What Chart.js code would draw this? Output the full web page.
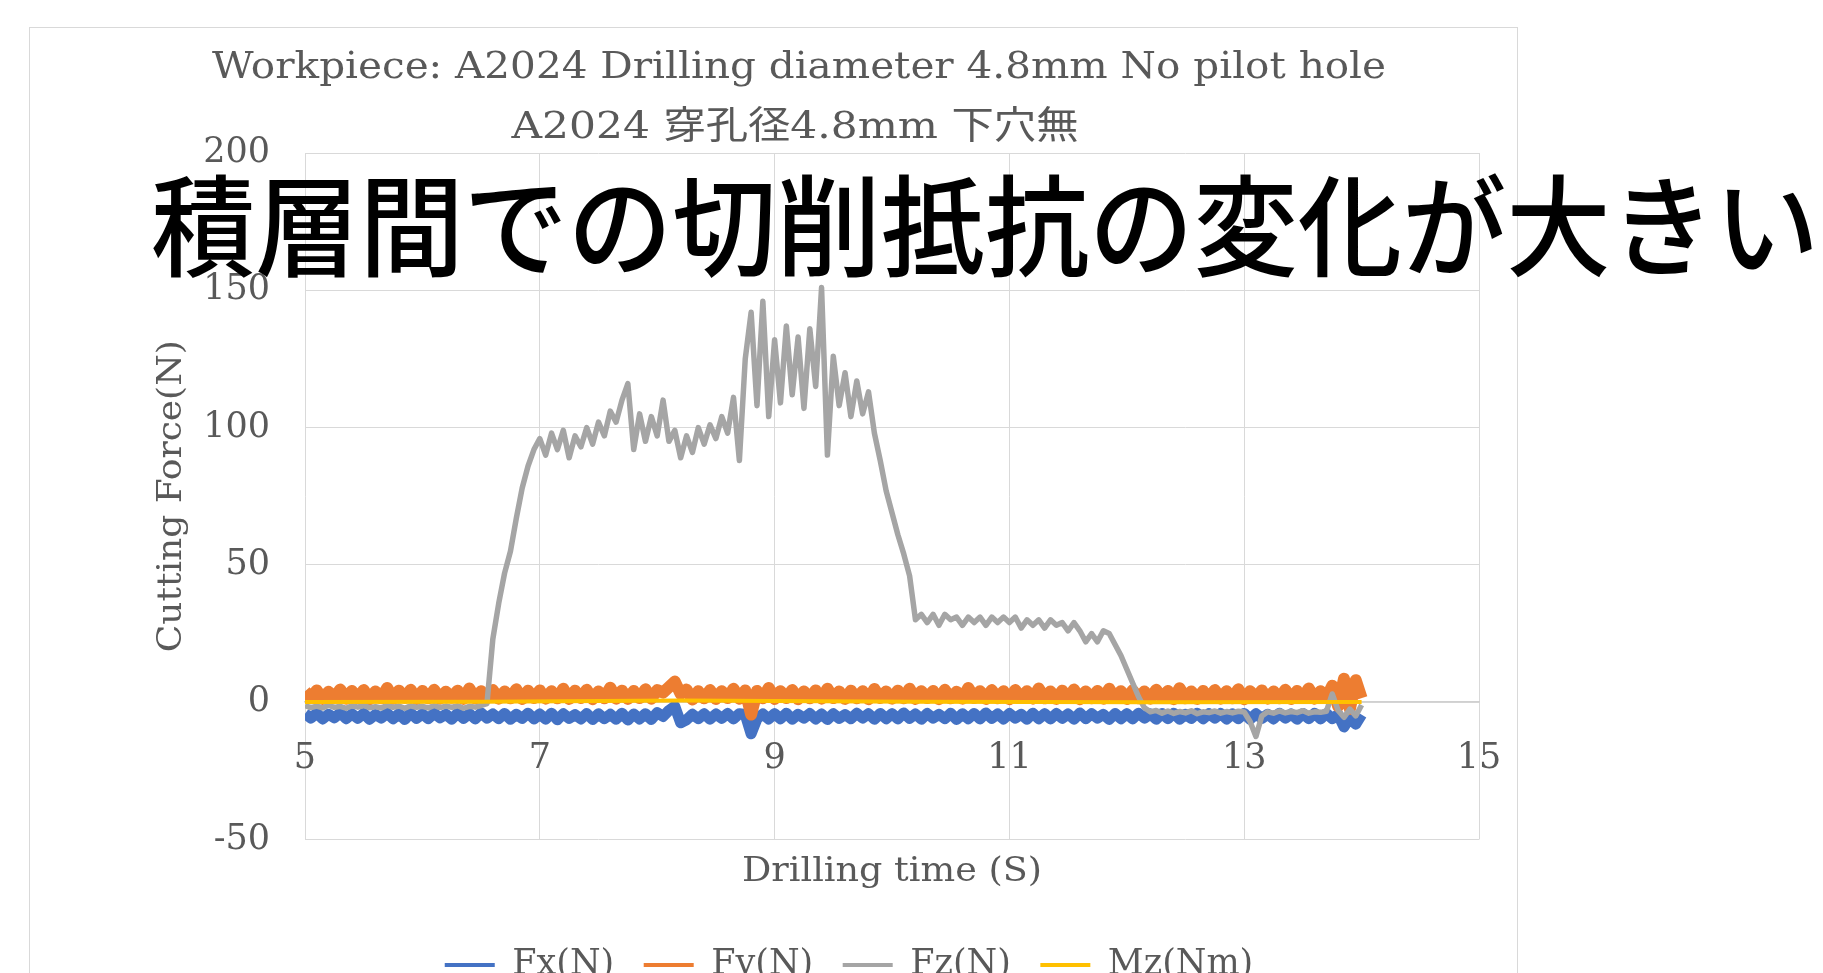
<!DOCTYPE html>
<html>
<head>
<meta charset="utf-8">
<script src="https://cdn.jsdelivr.net/npm/chart.js@4.4.1/dist/chart.umd.min.js"></script>
<style>
  html, body { margin: 0; padding: 0; background: #fff; }
  #wrap { position: relative; width: 1823px; height: 973px; }
</style>
</head>
<body>
<div id="wrap"><canvas id="chart"></canvas></div>
<script>
// Cutting force during drilling of A2024.
// Signals are noisy: sampled every 0.05 s, Fx/Fy drawn as thick lines to show the band.

const titleLines = ['Workpiece: A2024 Drilling diameter 4.8mm No pilot hole', 'A2024 穿孔径4.8mm 下穴無'];
const callout = '積層間での切削抵抗の変化が大きい';
const xTitle = 'Drilling time (S)';
const yTitle = 'Cutting Force(N)';
const seriesNames = ['Fx(N)', 'Fy(N)', 'Fz(N)', 'Mz(Nm)'];
const xTickValues = [5, 7, 9, 11, 13, 15];
const yTickValues = [-50, 0, 50, 100, 150, 200];

const time = [
  5,5.05,5.1,5.15,5.2,5.25,5.3,5.35,5.4,5.45,5.5,5.55,5.6,5.65,5.7,5.75,5.8,5.85,5.9,5.95,
  6,6.05,6.1,6.15,6.2,6.25,6.3,6.35,6.4,6.45,6.5,6.55,6.6,6.65,6.7,6.75,6.8,6.85,6.9,6.95,
  7,7.05,7.1,7.15,7.2,7.25,7.3,7.35,7.4,7.45,7.5,7.55,7.6,7.65,7.7,7.75,7.8,7.85,7.9,7.95,
  8,8.05,8.1,8.15,8.2,8.25,8.3,8.35,8.4,8.45,8.5,8.55,8.6,8.65,8.7,8.75,8.8,8.85,8.9,8.95,
  9,9.05,9.1,9.15,9.2,9.25,9.3,9.35,9.4,9.45,9.5,9.55,9.6,9.65,9.7,9.75,9.8,9.85,9.9,9.95,
  10,10.05,10.1,10.15,10.2,10.25,10.3,10.35,10.4,10.45,10.5,10.55,10.6,10.65,10.7,10.75,10.8,10.85,10.9,10.95,
  11,11.05,11.1,11.15,11.2,11.25,11.3,11.35,11.4,11.45,11.5,11.55,11.6,11.65,11.7,11.75,11.8,11.85,11.9,11.95,
  12,12.05,12.1,12.15,12.2,12.25,12.3,12.35,12.4,12.45,12.5,12.55,12.6,12.65,12.7,12.75,12.8,12.85,12.9,12.95,
  13,13.05,13.1,13.15,13.2,13.25,13.3,13.35,13.4,13.45,13.5,13.55,13.6,13.65,13.7,13.75,13.8,13.85,13.9,13.95,
  14
];

const fxValues = [
  -4.2,-5.8,-4.0,-6.1,-4.4,-5.7,-3.9,-6.0,-4.3,-5.9,-4.1,-6.2,-4.5,-5.8,-4.0,-6.0,-4.2,-6.3,-3.9,-5.9,
  -4.3,-6.0,-4.1,-5.7,-4.4,-6.2,-4.0,-5.9,-4.2,-6.1,-3.9,-5.8,-4.3,-6.0,-4.1,-6.2,-4.4,-5.9,-4.0,-6.1,
  -4.3,-6.2,-4.0,-6.4,-4.2,-5.9,-4.5,-6.1,-4.1,-6.3,-4.2,-6.0,-4.4,-6.2,-4.0,-6.5,-4.3,-6.1,-4.2,-6.3,
  -3.8,-5.2,-3.0,-1.5,-7.5,-6.4,-4.4,-6.0,-4.2,-6.2,-4.3,-5.9,-4.1,-6.1,-4.2,-4.5,-11.5,-6.0,-4.3,-6.1,
  -4.2,-6.0,-4.0,-6.2,-4.4,-5.8,-4.1,-6.1,-4.3,-6.3,-4.2,-5.9,-4.5,-6.0,-4.0,-5.8,-4.2,-6.2,-4.1,-6.0,
  -4.2,-6.1,-3.9,-5.9,-4.3,-6.2,-4.1,-5.8,-4.4,-6.0,-4.0,-6.3,-4.2,-6.0,-4.1,-6.1,-3.9,-5.9,-4.3,-6.1,
  -4.1,-5.8,-4.4,-6.2,-4.0,-6.0,-4.2,-6.1,-4.1,-5.9,-4.3,-6.2,-3.9,-6.0,-4.2,-5.8,-4.4,-6.3,-4.1,-6.0,
  -4.2,-6.1,-4.0,-5.8,-4.3,-6.2,-4.1,-6.0,-4.0,-6.2,-4.4,-5.9,-4.0,-6.0,-4.2,-5.8,-4.1,-6.1,-4.3,-6.0,
  -4.1,-6.2,-4.2,-5.9,-4.4,-6.1,-4.0,-5.8,-4.3,-6.2,-4.1,-6.0,-4.0,-6.1,-4.1,-6.0,-4.5,-9.0,-5.5,-8.0,
  -4.5
];

const fyValues = [
  4.0,1.5,4.3,1.2,3.8,1.6,4.6,1.3,4.1,1.5,4.4,1.1,3.9,1.4,5.2,1.3,4.2,1.6,4.5,1.2,
  4.1,1.4,4.5,1.3,3.8,1.6,4.2,1.2,5.0,1.4,4.0,1.5,4.4,1.3,3.9,1.4,4.7,1.2,4.2,1.5,
  4.3,1.3,4.0,1.4,4.9,1.2,4.2,1.5,4.5,1.1,3.9,1.4,5.3,1.3,4.2,1.2,4.1,1.5,4.7,1.3,
  4.4,3.5,5.5,7.5,3.0,4.6,1.0,4.0,1.4,4.4,1.2,4.0,1.5,4.9,1.3,4.3,-4.5,4.1,1.4,5.2,
  1.2,4.0,1.5,4.4,1.1,3.9,1.4,4.3,1.3,4.9,1.5,3.9,1.2,4.2,1.4,4.0,1.1,4.8,1.5,3.9,
  1.3,4.2,1.4,4.9,1.2,4.0,1.5,4.1,1.1,4.5,1.4,3.8,1.3,5.2,1.5,4.0,1.2,4.4,1.4,4.0,
  1.1,4.4,1.5,4.0,1.3,5.0,1.4,3.9,1.2,4.2,1.5,4.6,1.1,3.9,1.4,4.1,1.3,4.9,1.5,4.0,
  1.2,4.3,1.4,3.9,1.3,4.5,1.5,4.1,1.1,5.1,1.4,3.9,1.2,4.1,1.5,4.4,1.3,4.0,1.4,4.7,
  1.1,4.0,1.5,4.3,1.3,3.9,1.4,4.5,1.2,4.1,1.5,5.0,1.3,4.0,1.5,6.0,-1.5,8.5,-2.5,8.0,
  1.5
];

const fzValues = [
  -1.2,-2.0,-1.4,-2.1,-1.1,-1.9,-1.5,-2.2,-1.3,-1.8,-1.2,-2.0,-1.6,-2.1,-1.1,-1.9,-1.4,-2.2,-1.3,-1.9,
  -1.5,-2.1,-1.2,-2.0,-1.4,-1.9,-1.3,-2.2,-1.5,-1.8,-1.2,-0.5,23,36,47,55,67,78,86,92,
  96,90,98,92,99,89,97,93,100,94,102,97,106,102,110,116,92,105,95,104,
  97,110,95,99,89,97,91,100,94,101,96,104,98,111,88,125,142,108,146,104,
  132,109,137,112,133,107,136,115,151,90,126,108,120,104,117,105,113,98,88,77,
  69,61,54,46,30,32,29,32,28,32,30,31,28,31,29,31,28,31,29,31,
  29,31,27,30,28,30,27,30,28,29,26,29,26,22,25,22,26,25,21,17,
  12,7,2,-2,-3.5,-3,-4,-3.2,-4.1,-3.4,-3.9,-3.1,-4.2,-3.5,-3.8,-3.2,-4.0,-3.4,-3.9,-3.3,
  -3.6,-7,-12.5,-5,-3.5,-4.0,-3.2,-3.9,-3.4,-3.8,-3.1,-4.0,-3.5,-3.7,-3.3,3,-3,-5.5,-2.5,-5,
  -1
];

const mzTime   = [5, 6.5, 8.2, 10.2, 12.2, 14];
const mzValues = [0.1, 0.2, 0.6, 0.2, 0.0, 0.1];

const COLORS = ['#4472C4', '#ED7D31', '#A5A5A5', '#FFC000'];
const WIDTHS = [11, 12, 5.5, 4];
const TEXT = '#595959';
const GRID = '#d9d9d9';

const zip = (xs, ys) => xs.map((x, i) => ({ x, y: ys[i] }));
const seriesData = [
  zip(time, fxValues),
  zip(time, fyValues),
  zip(time, fzValues),
  zip(mzTime, mzValues),
];

// draw text centred at (x, y), squeezed/stretched to a given width
function fitText(ctx, text, x, y, font, width, color, angle) {
  ctx.save();
  ctx.font = font;
  ctx.fillStyle = color;
  ctx.textAlign = 'center';
  ctx.textBaseline = 'alphabetic';
  ctx.translate(x, y);
  if (angle) ctx.rotate(angle);
  ctx.scale(width / ctx.measureText(text).width, 1);
  ctx.fillText(text, 0, 0);
  ctx.restore();
}

const decor = {
  id: 'decor',
  afterLayout(chart) {
    // Excel puts the legend a bit right of the canvas centre
    chart.legend.left += 95;
    chart.legend.right += 95;
  },
  beforeDraw(chart) {
    const ctx = chart.ctx;
    ctx.save();
    ctx.strokeStyle = GRID;
    ctx.lineWidth = 1;
    ctx.strokeRect(29.5, 27.5, 1488, 1000);
    ctx.restore();
  },
  afterDraw(chart) {
    const ctx = chart.ctx, a = chart.chartArea;
    fitText(ctx, titleLines[0], 799, 78, '38px "DejaVu Serif"', 1174, TEXT);
    fitText(ctx, titleLines[1], 795, 138, '38px "DejaVu Serif", "Noto Sans CJK JP"', 567, TEXT);
    fitText(ctx, xTitle, (a.left + a.right) / 2, 881, '34px "DejaVu Serif"', 300, TEXT);
    fitText(ctx, yTitle, 181, (a.top + a.bottom) / 2, '34px "DejaVu Serif"', 312, TEXT, -Math.PI / 2);
    fitText(ctx, callout, 985, 268, '500 110px "Noto Sans CJK JP"', 1668, '#000');
  }
};

Chart.defaults.font.family = '"DejaVu Serif", "Noto Sans CJK JP", serif';

new Chart(document.getElementById('chart'), {
  type: 'line',
  data: {
    datasets: seriesNames.map((name, i) => ({
      label: name,
      data: seriesData[i],
      xAxisID: 'x',
      yAxisID: 'y',
      borderColor: COLORS[i],
      backgroundColor: COLORS[i],
      borderWidth: WIDTHS[i],
      borderJoinStyle: 'round',
      pointRadius: 0,
      tension: 0,
      order: 4 - i,
    })),
  },
  options: {
    responsive: true,
    maintainAspectRatio: false,
    animation: false,
    layout: { padding: { left: 29, right: 344, top: 153, bottom: -19.5 } },
    plugins: {
      legend: {
        position: 'bottom',
        labels: {
          boxWidth: 50, boxHeight: 4, padding: 29.5,
          color: TEXT, font: { size: 35 },
          generateLabels: chart => chart.data.datasets.map((ds, i) => ({
            text: ds.label, fillStyle: ds.borderColor, strokeStyle: ds.borderColor,
            lineWidth: 0, hidden: false, datasetIndex: i, fontColor: TEXT,
          })),
        },
      },
      tooltip: { enabled: false },
    },
    scales: {
      x: {
        type: 'linear',
        position: { y: 0 },
        min: xTickValues[0], max: xTickValues[xTickValues.length - 1],
        afterBuildTicks: s => { s.ticks = xTickValues.map(v => ({ value: v })); },
        grid: { color: GRID, drawTicks: false },
        border: { color: '#d0d0d0', width: 1.5 },
        ticks: { color: TEXT, font: { size: 35 }, padding: 36, maxRotation: 0 },
      },
      x2: {
        type: 'linear',
        position: 'bottom',
        min: 5, max: 15,
        grid: { display: false },
        border: { display: false },
        ticks: { display: false },
        afterFit: s => { s.height = 78.5; },
      },
      y: {
        type: 'linear',
        min: yTickValues[0], max: yTickValues[yTickValues.length - 1],
        afterBuildTicks: s => { s.ticks = yTickValues.map(v => ({ value: v })); },
        grid: { color: GRID, drawTicks: false },
        border: { display: false },
        ticks: { color: TEXT, font: { size: 35 }, padding: 35 },
        afterFit: s => { s.width = 276; },
      },
    },
  },
  plugins: [decor],
});
</script>
</body>
</html>
